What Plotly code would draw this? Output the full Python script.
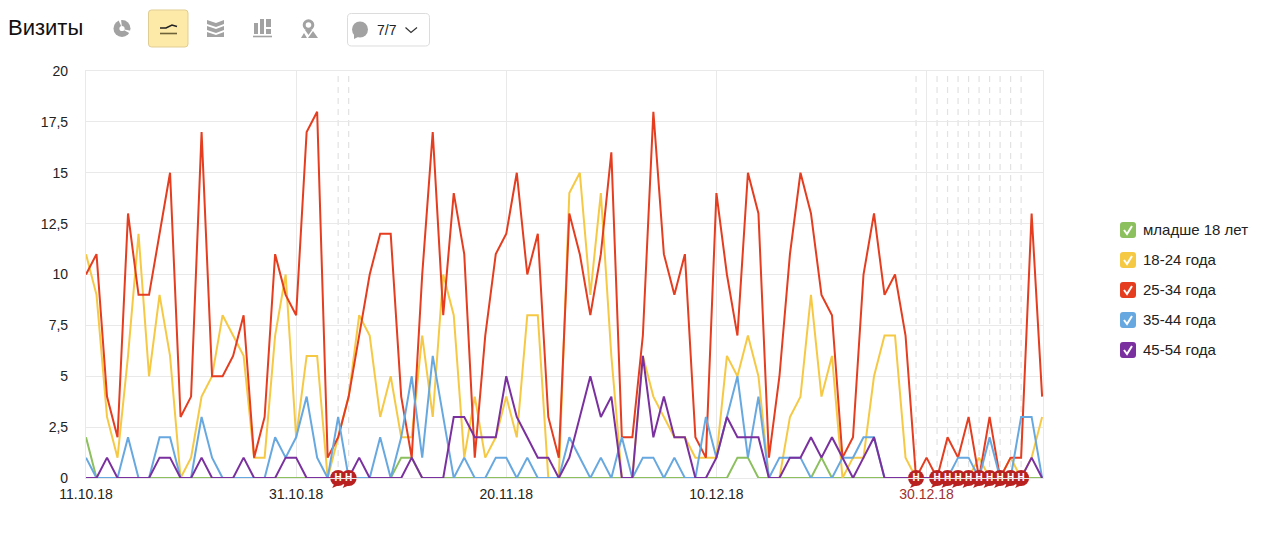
"""Visits by age group, daily line chart with a Metrika-style toolbar."""

import pandas as pd
import plotly.graph_objects as go

dates = pd.date_range("2018-10-11", "2019-01-10").strftime("%Y-%m-%d").tolist()

under_18 = [2, 0, 0, 0, 0, 0, 0, 0, 0, 0, 0, 0, 0, 0, 0, 0, 0, 0, 0, 0, 0, 0, 0, 0, 0, 0, 0, 0, 0, 0,
            1, 1, 0, 0, 0, 0, 0, 0, 0, 0, 0, 0, 0, 0, 0, 0, 0, 0, 0, 0, 0, 0, 0, 0, 0, 0, 0, 0, 0, 0,
            0, 0, 1, 1, 0, 0, 0, 0, 0, 0, 1, 0, 0, 0, 0, 0, 0, 0, 0, 0, 0, 0, 0, 0, 0, 0, 0, 0, 0, 0,
            0, 0]
age_18_24 = [11, 9, 3, 1, 6, 12, 5, 9, 6, 0, 1, 4, 5, 8, 7, 6, 1, 1, 7, 10, 2, 6, 6, 0, 2, 4, 8, 7, 3, 5,
             2, 2, 7, 3, 10, 8, 1, 4, 1, 2, 4, 2, 8, 8, 0, 0, 14, 15, 9, 14, 6, 0, 0, 6, 4, 3, 2, 2, 1, 1,
             1, 6, 5, 7, 5, 0, 0, 3, 4, 9, 4, 6, 0, 1, 1, 5, 7, 7, 1, 0, 0, 0, 0, 0, 0, 1, 0, 0, 1, 0,
             1, 3]
age_25_34 = [10, 11, 4, 2, 13, 9, 9, 12, 15, 3, 4, 17, 5, 5, 6, 8, 1, 3, 11, 9, 8, 17, 18, 1, 2, 4, 7, 10, 12, 12,
             4, 1, 10, 17, 8, 14, 11, 1, 7, 11, 12, 15, 10, 12, 3, 1, 13, 11, 8, 11, 16, 2, 2, 7, 18, 11, 9, 11, 2, 1,
             14, 10, 7, 15, 13, 1, 5, 11, 15, 13, 9, 8, 1, 2, 10, 13, 9, 10, 7, 0, 1, 0, 2, 1, 3, 0, 3, 0, 1, 1,
             13, 4]
age_35_44 = [1, 0, 0, 0, 2, 0, 0, 2, 2, 0, 0, 3, 1, 0, 0, 0, 0, 0, 2, 1, 2, 4, 1, 0, 3, 0, 0, 0, 2, 0,
             2, 5, 1, 6, 3, 0, 1, 0, 0, 1, 1, 0, 1, 0, 0, 0, 2, 1, 0, 1, 0, 2, 0, 1, 1, 0, 1, 0, 0, 3,
             1, 3, 5, 1, 4, 0, 1, 1, 1, 0, 0, 0, 1, 1, 2, 2, 0, 0, 0, 0, 0, 0, 0, 1, 1, 0, 2, 0, 0, 3,
             3, 0]
age_45_54 = [0, 0, 1, 0, 0, 0, 0, 1, 1, 0, 0, 1, 0, 0, 0, 1, 0, 0, 0, 1, 1, 0, 0, 0, 0, 0, 1, 0, 0, 0,
             0, 1, 0, 0, 0, 3, 3, 2, 2, 2, 5, 3, 2, 1, 1, 0, 1, 3, 5, 3, 4, 0, 0, 6, 2, 4, 2, 2, 0, 0,
             1, 3, 2, 2, 2, 0, 0, 1, 1, 2, 1, 2, 1, 0, 1, 2, 0, 0, 0, 0, 0, 0, 0, 0, 0, 0, 0, 0, 0, 0,
             1, 0]

series_names = ["младше 18 лет", "18-24 года", "25-34 года", "35-44 года", "45-54 года"]
series_values = [under_18, age_18_24, age_25_34, age_35_44, age_45_54]
series_colors = ["#8cbf5d", "#f6c945", "#e43d1f", "#68a8e0", "#7b309f"]

holidays = ["2018-11-04", "2018-11-05", "2018-12-29", "2018-12-31", "2019-01-01", "2019-01-02",
            "2019-01-03", "2019-01-04", "2019-01-05", "2019-01-06", "2019-01-07", "2019-01-08"]

y_ticks = [0, 2.5, 5, 7.5, 10, 12.5, 15, 17.5, 20]
y_labels = ["0", "2,5", "5", "7,5", "10", "12,5", "15", "17,5", "20"]
x_ticks = ["2018-10-11", "2018-10-31", "2018-11-20", "2018-12-10", "2018-12-30"]
x_labels = ["11.10.18", "31.10.18", "20.11.18", "10.12.18",
            '<span style="color:#a03030">30.12.18</span>']

LEFT, RIGHT, TOP, BOTTOM = 86, 1043, 71, 478
FONT = "Liberation Sans"
GREY = "#a2a2a2"


def px(x, y):
    """Convert page pixels to paper coordinates."""
    return (x - LEFT) / (RIGHT - LEFT), (BOTTOM - y) / (BOTTOM - TOP)


def page_path(points, close=True):
    """Build an SVG path in paper coordinates from page pixels."""
    parts = []
    for i, (x, y) in enumerate(points):
        u, v = px(x, y)
        parts.append(f"{'M' if i == 0 else 'L'}{u:.5f},{v:.5f}")
    return " ".join(parts) + (" Z" if close else "")


def round_rect(x0, y0, x1, y1, r):
    """Rounded rectangle path in paper coordinates."""
    corners = [(x0 + r, y0), (x1 - r, y0), (x1, y0), (x1, y0 + r), (x1, y1 - r), (x1, y1),
               (x1 - r, y1), (x0 + r, y1), (x0, y1), (x0, y1 - r), (x0, y0 + r), (x0, y0), (x0 + r, y0)]
    c = [px(*p) for p in corners]
    s = f"M{c[0][0]:.5f},{c[0][1]:.5f} L{c[1][0]:.5f},{c[1][1]:.5f} "
    for i in (2, 5, 8, 11):
        s += f"Q{c[i][0]:.5f},{c[i][1]:.5f} {c[i + 1][0]:.5f},{c[i + 1][1]:.5f} "
        if i < 11:
            s += f"L{c[i + 2][0]:.5f},{c[i + 2][1]:.5f} "
    return s + "Z"


def path_shape(path, fill=None, color=None, width=0):
    return dict(type="path", xref="paper", yref="paper", path=path, fillcolor=fill or "rgba(0,0,0,0)",
                line=dict(color=color or "rgba(0,0,0,0)", width=width), layer="above")


def circle_shape(cx, cy, r, fill=None, color=None, width=0):
    x0, y0 = px(cx - r, cy + r)
    x1, y1 = px(cx + r, cy - r)
    return dict(type="circle", xref="paper", yref="paper", x0=x0, y0=y0, x1=x1, y1=y1,
                fillcolor=fill or "rgba(0,0,0,0)", line=dict(color=color or "rgba(0,0,0,0)", width=width),
                layer="above")


def toolbar_shapes():
    shapes = [
        # pie icon
        circle_shape(122, 28.5, 8.5, fill=GREY),
        circle_shape(122, 28.5, 2.6, fill="white"),
        path_shape(page_path([(122, 28), (121, 19), (118, 19)]), fill="white"),
        path_shape(page_path([(122, 29), (132, 31), (131, 34)]), fill="white"),
        # selected line button
        path_shape(round_rect(148.5, 10, 188, 47, 3), fill="#fdeaa9", color="#e0cd92", width=1),
        path_shape(page_path([(160, 28), (166, 28), (172, 25), (177, 26.5)], close=False), color="#222222", width=1.6),
        path_shape(page_path([(160, 33.5), (177, 33.5)], close=False), color="#6e6238", width=1.6),
        # stacked area icon
        path_shape(page_path([(207, 20), (216, 23), (224, 20), (224, 24), (216, 27), (207, 24)]), fill=GREY),
        path_shape(page_path([(207, 26), (216, 29), (224, 26), (224, 30), (216, 33), (207, 30)]), fill=GREY),
        path_shape(page_path([(207, 32), (216, 35), (224, 32), (224, 37), (207, 37)]), fill=GREY),
        # bars icon
        path_shape(page_path([(254, 23), (258, 23), (258, 34), (254, 34)]), fill=GREY),
        path_shape(page_path([(260, 19), (264, 19), (264, 34), (260, 34)]), fill=GREY),
        path_shape(page_path([(266, 19), (271, 19), (271, 27), (266, 27)]), fill=GREY),
        path_shape(page_path([(266, 29), (271, 29), (271, 34), (266, 34)]), fill=GREY),
        path_shape(page_path([(253, 36.5), (272, 36.5)], close=False), color=GREY, width=1.6),
        # map pin icon
        circle_shape(308.5, 25, 4.3, color=GREY, width=3),
        path_shape(page_path([(305, 30), (308.5, 35), (312, 30)]), fill=GREY),
        path_shape(page_path([(301, 38), (304, 33), (307, 38)]), fill=GREY),
        path_shape(page_path([(308, 38), (313, 31), (318, 38)]), fill=GREY),
        # filter dropdown
        path_shape(round_rect(347.5, 13.5, 429.5, 46, 4), fill="white", color="#dcdcdc", width=1),
        circle_shape(360, 29.5, 8, fill=GREY),
        path_shape(page_path([(354, 34), (354, 39), (360, 36)]), fill=GREY),
        path_shape(page_path([(405.5, 27.5), (411, 32.5), (417, 27.5)], close=False), color="#333333", width=1.2),
    ]
    return shapes


def legend_items():
    shapes = []
    annotations = []
    for i, (name, color) in enumerate(zip(series_names, series_colors)):
        cy = 230 + i * 30
        shapes.append(path_shape(round_rect(1120, cy - 8, 1136, cy + 8, 3), fill=color))
        shapes.append(path_shape(page_path([(1124, cy), (1127, cy + 4), (1132, cy - 4)], close=False),
                                 color="white", width=2))
        x, y = px(1141, cy - 0.7)
        annotations.append(dict(text=name, xref="paper", yref="paper", x=x, y=y, xanchor="left", yanchor="middle",
                                showarrow=False, font=dict(family=FONT, size=15, color="#222222")))
    return shapes, annotations


fig = go.Figure()
for name, values, color in zip(series_names, series_values, series_colors):
    fig.add_trace(go.Scatter(x=dates, y=values, name=name, mode="lines", cliponaxis=False,
                             line=dict(color=color, width=2)))

shapes = []
for day in holidays:
    shapes.append(dict(type="line", xref="x", yref="y", x0=day, x1=day, y0=0, y1=20, layer="below",
                       line=dict(color="#e2e2e2", width=1.2, dash="6px,5px")))
    # bubble tail
    shapes.append(dict(type="path", xref="x", yref="paper", xsizemode="pixel", ysizemode="pixel",
                       xanchor=day, yanchor=0, path="M-4,-6 L-6,-10 L1,-7 Z", fillcolor="#b92020",
                       line=dict(width=0), layer="below"))

fig.add_trace(go.Scatter(x=holidays, y=[0] * len(holidays), mode="markers+text", text=["Н"] * len(holidays),
                         textposition="middle center", cliponaxis=False, showlegend=False,
                         textfont=dict(family=FONT, size=10, color="white", weight="bold"),
                         marker=dict(size=16, color="#b92020")))

legend_shapes, legend_annotations = legend_items()
shapes += toolbar_shapes() + legend_shapes

title_x, title_y = px(6, 27.5)
counter_x, counter_y = px(375, 30)
annotations = legend_annotations + [
    dict(text="Визиты", xref="paper", yref="paper", x=title_x, y=title_y, xanchor="left", yanchor="middle",
         showarrow=False, font=dict(family=FONT, size=22, color="#111111")),
    dict(text="7/7", xref="paper", yref="paper", x=counter_x, y=counter_y, xanchor="left", yanchor="middle",
         showarrow=False, font=dict(family=FONT, size=14, color="#222222")),
]

fig.update_layout(
    width=1261,
    height=540,
    margin=dict(l=LEFT, r=1261 - RIGHT, t=TOP, b=540 - BOTTOM),
    paper_bgcolor="white",
    plot_bgcolor="white",
    showlegend=False,
    shapes=shapes,
    annotations=annotations,
    font=dict(family=FONT, size=14, color="#222222"),
    xaxis=dict(type="date", range=[dates[0], "2019-01-10 02:00"], tickmode="array", tickvals=x_ticks,
               ticktext=x_labels, showgrid=True, gridcolor="#e9e9e9", gridwidth=1.2, showline=True,
               linecolor="#e9e9e9", linewidth=1.2, mirror=True, zeroline=False, ticks="", tickangle=0,
               ticklabelstandoff=3),
    yaxis=dict(range=[0, 20], tickmode="array", tickvals=y_ticks, ticktext=y_labels,
               showgrid=True, gridcolor="#e9e9e9", gridwidth=1.2, showline=True, linecolor="#e9e9e9",
               linewidth=1.2, mirror=True, zeroline=False, ticks="", ticklabelstandoff=14),
)

fig.write_html("out.html", config={"displayModeBar": False}, post_script="document.body.style.margin='0';")
